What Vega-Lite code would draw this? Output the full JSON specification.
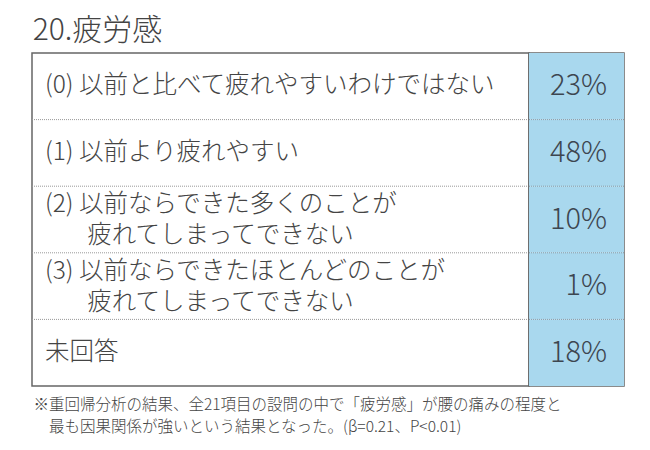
{
  "$schema": "https://vega.github.io/schema/vega-lite/v6.json",
  "background": "white",
  "padding": {"left": 30, "top": 16, "right": 0, "bottom": 0},
  "bounds": "flush",
  "title": {
    "text": "20.疲労感",
    "anchor": "start",
    "fontSize": 30,
    "fontWeight": 300,
    "color": "#444",
    "dx": 2,
    "offset": 6
  },
  "data": {
    "values": [
      {"key": "(0)", "label": "(0) 以前と比べて疲れやすいわけではない", "pct": 0.23},
      {"key": "(1)", "label": "(1) 以前より疲れやすい", "pct": 0.48},
      {"key": "(2)", "label": "(2) 以前ならできた多くのことが\n\u200b　\u2002 疲れてしまってできない", "pct": 0.10},
      {"key": "(3)", "label": "(3) 以前ならできたほとんどのことが\n\u200b　\u2002 疲れてしまってできない", "pct": 0.01},
      {"key": "未回答", "label": "未回答", "pct": 0.18}
    ]
  },
  "spacing": 0,
  "hconcat": [
    {
      "width": 497,
      "height": 333,
      "title": {
        "text": [
          "※重回帰分析の結果、全21項目の設問の中で「疲労感」が腰の痛みの程度と",
          "\u200b　最も因果関係が強いという結果となった。(β=0.21、P<0.01)"
        ],
        "orient": "bottom",
        "anchor": "start",
        "fontSize": 15.5,
        "fontWeight": 300,
        "lineHeight": 22,
        "color": "#444",
        "limit": 640,
        "dx": 2,
        "offset": 12
      },
      "encoding": {
        "y": {"field": "key", "type": "nominal", "sort": ["(0)", "(1)", "(2)", "(3)", "未回答"], "axis": null,
              "scale": {"paddingInner": 0, "paddingOuter": 0}}
      },
      "layer": [
        {
          "transform": [{"filter": "indexof(datum.label, '\\n') < 0"}],
          "mark": {"type": "text", "align": "left", "baseline": "middle", "dx": 13,
                   "fontSize": 24.5, "fontWeight": 300, "color": "#444"},
          "encoding": {"x": {"value": 0}, "text": {"field": "label"}}
        },
        {
          "transform": [{"filter": "indexof(datum.label, '\\n') >= 0"}],
          "mark": {"type": "text", "align": "left", "baseline": "middle", "dx": 13, "dy": -14.5,
                   "fontSize": 24.5, "fontWeight": 300, "lineHeight": 31, "lineBreak": "\n", "color": "#444"},
          "encoding": {"x": {"value": 0}, "text": {"field": "label"}}
        },
        {
          "transform": [{"filter": "datum.key != '(0)'"}],
          "mark": {"type": "rule", "color": "#999", "strokeDash": [1, 1], "strokeWidth": 1},
          "encoding": {"y": {"field": "key", "type": "nominal", "sort": ["(0)", "(1)", "(2)", "(3)", "未回答"], "bandPosition": 0}}
        }
      ]
    },
    {
      "width": 95,
      "height": 333,
      "encoding": {
        "y": {"field": "key", "type": "nominal", "sort": ["(0)", "(1)", "(2)", "(3)", "未回答"], "axis": null,
              "scale": {"paddingInner": 0, "paddingOuter": 0}}
      },
      "layer": [
        {"mark": {"type": "rect", "color": "#a9d8ee"}},
        {
          "transform": [{"filter": "datum.key != '(0)'"}],
          "mark": {"type": "rule", "color": "#8a9aa5", "strokeDash": [1, 1], "strokeWidth": 1},
          "encoding": {"y": {"field": "key", "type": "nominal", "sort": ["(0)", "(1)", "(2)", "(3)", "未回答"], "bandPosition": 0}}
        },
        {
          "mark": {"type": "text", "align": "right", "baseline": "middle", "dx": -17,
                   "fontSize": 29, "fontWeight": 300, "color": "#3d4650"},
          "encoding": {"x": {"value": "width"}, "text": {"field": "pct", "format": ".0%"}}
        }
      ]
    }
  ],
  "config": {
    "font": "Noto Sans CJK JP",
    "view": {"stroke": "#666", "strokeWidth": 1.5}
  }
}
